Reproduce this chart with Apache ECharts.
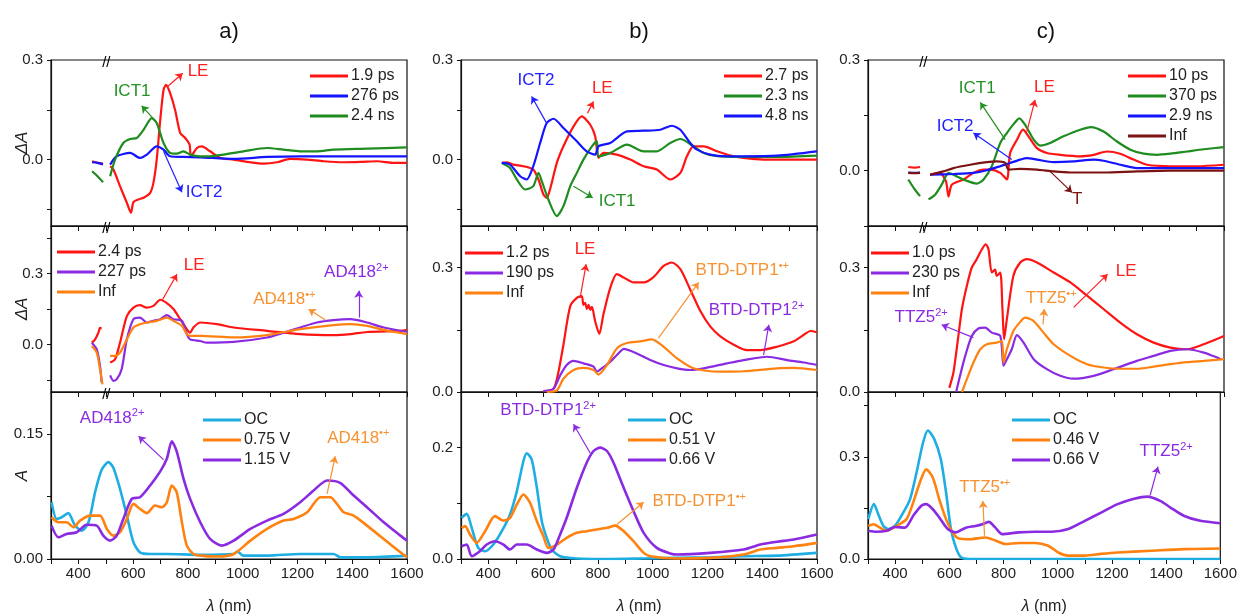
<!DOCTYPE html>
<html>
<head>
<meta charset="utf-8">
<script src="https://cdn.jsdelivr.net/npm/echarts@6/dist/echarts.min.js"></script>
<style>
  html, body { margin: 0; background: #fff; }
  #chart { width: 1240px; height: 616px; }
</style>
</head>
<body>
<div id="chart"></div>
<script>
var FONT = 'Liberation Sans, Arial, sans-serif';
var GAP = '-';

// ---- row 1 : transient spectra (decay associated) ----
var a1Red = [[450,-0.005],[470,-0.01],[490,-0.012],[500,GAP],[516,-0.02],[528,-0.03],[552,-0.08],[577,-0.13],[592,-0.16],[601,-0.128],[619,-0.12],[638,-0.115],[662,-0.1],[674,-0.07],[686,0],[699,0.12],[711,0.21],[720,0.225],[735,0.2],[753,0.15],[772,0.08],[790,0.065],[806,0.045],[811,0.01],[833,0.035],[851,0.04],[881,0.025],[918,0.005],[967,0],[1028,-0.008],[1076,-0.012],[1125,-0.008],[1174,0.002],[1235,0],[1296,-0.005],[1369,-0.008],[1430,-0.007],[1491,-0.005],[1552,-0.01],[1600,-0.01]];
var a1Blue = [[450,-0.008],[470,-0.01],[490,-0.015],[500,GAP],[516,-0.015],[540,0.01],[589,0.02],[625,0.005],[650,0.015],[686,0.04],[711,0.03],[735,0.01],[784,0.008],[845,0.007],[967,0.002],[1089,0.008],[1210,0.01],[1332,0.01],[1454,0.01],[1600,0.01]];
var a1Green = [[450,-0.035],[470,-0.05],[490,-0.068],[500,GAP],[516,-0.05],[534,0],[564,0.05],[589,0.062],[613,0.065],[638,0.09],[668,0.125],[686,0.11],[711,0.05],[735,0.02],[759,0.018],[784,0.025],[808,0.015],[845,0.01],[881,0.01],[930,0.015],[1003,0.025],[1089,0.035],[1149,0.03],[1210,0.025],[1271,0.025],[1332,0.03],[1454,0.033],[1600,0.037]];

var b1Red = [[449,-0.01],[467,-0.008],[491,-0.015],[528,-0.02],[564,-0.03],[583,-0.06],[601,-0.105],[613,-0.115],[625,-0.09],[650,-0.01],[674,0.04],[711,0.1],[741,0.13],[772,0.105],[790,0.07],[802,0.005],[820,0.02],[869,0.015],[918,0],[967,-0.02],[1015,-0.03],[1064,-0.06],[1101,-0.04],[1125,0.01],[1149,0.04],[1186,0.04],[1235,0.025],[1284,0.012],[1332,0.005],[1405,0],[1600,0]];
var b1Green = [[449,-0.01],[479,-0.025],[504,-0.06],[534,-0.09],[564,-0.08],[583,-0.04],[595,-0.065],[619,-0.12],[650,-0.17],[674,-0.14],[699,-0.08],[723,-0.04],[747,0],[778,0.04],[796,0.055],[802,0.01],[845,0.02],[906,0.045],[967,0.025],[1015,0.025],[1064,0.05],[1101,0.062],[1149,0.04],[1186,0.02],[1235,0.01],[1332,0.008],[1454,0.008],[1600,0.012]];
var b1Blue = [[449,-0.01],[479,-0.015],[516,-0.05],[540,-0.06],[564,-0.02],[589,0.05],[613,0.11],[638,0.123],[674,0.095],[723,0.055],[759,0.025],[790,0.015],[802,0.04],[845,0.05],[906,0.085],[967,0.087],[1028,0.09],[1070,0.102],[1101,0.09],[1137,0.05],[1162,0.03],[1210,0.015],[1271,0.01],[1332,0.01],[1454,0.012],[1600,0.025]];

var c1Red = [[447,0.01],[470,0.008],[490,0.01],[500,GAP],[527,-0.011],[563,-0.006],[585,-0.03],[594,-0.07],[606,-0.038],[649,-0.024],[685,-0.006],[722,0.003],[746,0.003],[783,-0.006],[807,-0.024],[819,0.048],[844,0.084],[866,0.111],[886,0.093],[917,0.061],[953,0.048],[1002,0.043],[1075,0.039],[1124,0.043],[1173,0.052],[1221,0.046],[1270,0.03],[1319,0.016],[1404,0.012],[1502,0.012],[1600,0.016]];
var c1Green = [[447,-0.024],[470,-0.05],[490,-0.069],[500,GAP],[521,-0.078],[545,-0.065],[569,-0.038],[594,-0.006],[612,-0.011],[649,-0.024],[697,-0.035],[722,-0.024],[752,0.012],[783,0.075],[807,0.102],[825,0.12],[853,0.142],[874,0.124],[905,0.084],[929,0.068],[965,0.075],[1014,0.093],[1075,0.111],[1114,0.118],[1160,0.106],[1209,0.079],[1258,0.057],[1307,0.046],[1355,0.043],[1404,0.046],[1465,0.052],[1526,0.058],[1600,0.064]];
var c1Blue = [[447,-0.005],[470,-0.006],[490,-0.005],[500,GAP],[527,-0.011],[612,-0.009],[685,-0.006],[734,0.001],[783,0.012],[819,0.021],[856,0.03],[880,0.034],[917,0.03],[978,0.023],[1051,0.025],[1124,0.03],[1160,0.027],[1221,0.016],[1282,0.007],[1404,0.007],[1600,0.007]];
var c1Brown = [[447,-0.006],[470,-0.007],[490,-0.006],[500,GAP],[527,-0.011],[575,-0.002],[612,0.007],[673,0.016],[734,0.023],[770,0.025],[801,0.021],[813,0.003],[856,0.005],[917,0.003],[978,-0.002],[1039,-0.005],[1160,-0.005],[1282,-0.002],[1404,0],[1600,0]];

// ---- row 2 : species associated spectra ----
var a2Red = [[449,0.008],[461,0.022],[473,0.05],[479,0.07],[485,0.068],[500,GAP],[516,-0.076],[534,-0.062],[552,0.008],[577,0.12],[601,0.156],[625,0.166],[650,0.156],[674,0.163],[699,0.189],[723,0.175],[747,0.15],[772,0.107],[796,0.065],[808,0.05],[820,0.072],[845,0.093],[906,0.086],[967,0.072],[1089,0.058],[1210,0.044],[1332,0.04],[1393,0.044],[1454,0.053],[1576,0.058],[1600,0.062]];
var a2Purple = [[449,0.008],[467,-0.02],[479,-0.09],[485,-0.16],[500,GAP],[516,-0.13],[528,-0.153],[540,-0.146],[558,-0.104],[577,0.022],[601,0.107],[625,0.114],[650,0.093],[674,0.1],[699,0.107],[723,0.124],[747,0.107],[778,0.1],[796,0.044],[808,0.022],[845,0.015],[869,0.008],[967,0.011],[1089,0.03],[1149,0.05],[1210,0.072],[1271,0.093],[1332,0.103],[1393,0.107],[1454,0.093],[1515,0.072],[1600,0.054]];
var a2Orange = [[449,-0.006],[467,-0.034],[479,-0.104],[488,-0.168],[500,GAP],[516,-0.048],[534,-0.048],[552,-0.034],[577,0.022],[601,0.072],[625,0.086],[650,0.093],[686,0.1],[723,0.114],[747,0.1],[778,0.079],[796,0.044],[808,0.037],[845,0.037],[967,0.03],[1089,0.04],[1210,0.065],[1332,0.082],[1393,0.086],[1454,0.079],[1515,0.062],[1600,0.044]];

var b2Red = [[601,0.002],[638,0.008],[656,0.049],[674,0.114],[699,0.207],[723,0.227],[741,0.231],[747,0.21],[753,0.215],[760,0.2],[766,0.21],[772,0.198],[778,0.205],[790,0.17],[805,0.14],[820,0.187],[845,0.251],[869,0.284],[894,0.276],[930,0.264],[967,0.264],[1003,0.277],[1040,0.304],[1070,0.312],[1101,0.296],[1137,0.247],[1174,0.195],[1210,0.158],[1247,0.134],[1296,0.114],[1344,0.101],[1393,0.101],[1454,0.109],[1515,0.122],[1552,0.138],[1576,0.147],[1600,0.144]];
var b2Purple = [[601,0.002],[638,0.008],[662,0.04],[686,0.065],[711,0.075],[747,0.069],[784,0.061],[796,0.049],[814,0.057],[845,0.073],[881,0.097],[894,0.104],[942,0.093],[991,0.077],[1040,0.065],[1089,0.057],[1137,0.053],[1186,0.057],[1271,0.069],[1332,0.077],[1418,0.085],[1491,0.077],[1552,0.071],[1600,0.065]];
var b2Orange = [[613,0],[650,0.004],[674,0.032],[711,0.053],[747,0.058],[784,0.053],[802,0.042],[833,0.065],[869,0.105],[906,0.118],[954,0.122],[997,0.127],[1040,0.109],[1089,0.081],[1149,0.057],[1210,0.05],[1271,0.049],[1332,0.05],[1454,0.057],[1515,0.058],[1600,0.053]];

var c2Red = [[597,0.01],[612,0.047],[630,0.135],[643,0.2],[661,0.256],[679,0.3],[697,0.32],[716,0.344],[730,0.356],[740,0.344],[752,0.288],[764,0.295],[770,0.28],[783,0.288],[791,0.2],[797,0.127],[807,0.175],[831,0.28],[856,0.312],[880,0.32],[917,0.312],[978,0.288],[1039,0.264],[1100,0.232],[1160,0.2],[1221,0.167],[1282,0.139],[1343,0.119],[1404,0.107],[1465,0.103],[1526,0.115],[1600,0.135]];
var c2Purple = [[622,0],[636,0.039],[655,0.087],[679,0.135],[703,0.153],[728,0.155],[752,0.143],[783,0.135],[795,0.063],[807,0.079],[825,0.103],[844,0.137],[868,0.119],[905,0.079],[953,0.055],[1002,0.039],[1051,0.032],[1124,0.039],[1197,0.055],[1282,0.075],[1343,0.087],[1404,0.099],[1465,0.103],[1526,0.095],[1575,0.083],[1587,0.079]];
var c2Orange = [[643,0],[661,0.031],[685,0.071],[710,0.103],[734,0.115],[770,0.119],[789,0.123],[795,0.071],[807,0.103],[831,0.147],[856,0.169],[874,0.179],[905,0.171],[941,0.143],[978,0.115],[1039,0.087],[1100,0.067],[1160,0.059],[1221,0.056],[1282,0.056],[1343,0.061],[1404,0.067],[1465,0.072],[1526,0.075],[1600,0.079]];

// ---- row 3 : spectroelectrochemistry ----
var a3Cyan = [[302,0.068],[321,0.048],[339,0.05],[363,0.055],[388,0.04],[412,0.034],[437,0.044],[461,0.08],[485,0.107],[510,0.116],[528,0.109],[552,0.084],[577,0.052],[601,0.02],[625,0.008],[662,0.006],[723,0.006],[845,0.005],[967,0.006],[980,0.009],[1003,0.004],[1089,0.004],[1210,0.006],[1332,0.006],[1357,0.002],[1454,0.002],[1600,0.004]];
var a3Orange = [[302,0.05],[327,0.044],[357,0.044],[382,0.038],[406,0.046],[443,0.052],[479,0.052],[504,0.036],[528,0.028],[552,0.032],[577,0.048],[601,0.066],[625,0.06],[650,0.055],[680,0.064],[705,0.062],[723,0.068],[741,0.088],[759,0.08],[778,0.044],[796,0.016],[820,0.006],[845,0.004],[906,0.003],[967,0.006],[1028,0.022],[1089,0.036],[1149,0.046],[1186,0.048],[1235,0.056],[1284,0.074],[1320,0.074],[1344,0.066],[1369,0.056],[1405,0.052],[1454,0.04],[1515,0.024],[1576,0.008],[1600,0.002]];
var a3Purple = [[302,0.04],[327,0.026],[357,0.03],[394,0.032],[430,0.041],[467,0.04],[491,0.028],[516,0.022],[540,0.028],[564,0.048],[595,0.072],[625,0.074],[662,0.088],[699,0.105],[723,0.12],[741,0.141],[759,0.129],[784,0.096],[808,0.072],[845,0.044],[881,0.024],[924,0.016],[967,0.022],[1028,0.036],[1089,0.046],[1149,0.054],[1210,0.068],[1259,0.082],[1308,0.094],[1357,0.091],[1405,0.076],[1454,0.062],[1515,0.044],[1576,0.028],[1600,0.022]];

var b3Cyan = [[302,0.074],[321,0.081],[339,0.056],[363,0.02],[388,0.014],[418,0.026],[449,0.05],[479,0.08],[504,0.122],[528,0.176],[540,0.19],[558,0.179],[577,0.128],[595,0.068],[613,0.038],[631,0.017],[662,0.005],[723,0.001],[845,0],[967,0.001],[1089,0.002],[1210,0.003],[1332,0.005],[1454,0.006],[1600,0.011]];
var b3Orange = [[302,0.056],[315,0.059],[333,0.044],[357,0.029],[388,0.05],[424,0.077],[455,0.069],[479,0.074],[504,0.098],[528,0.116],[552,0.101],[577,0.068],[601,0.041],[619,0.02],[650,0.026],[686,0.038],[723,0.047],[759,0.05],[796,0.053],[833,0.056],[863,0.06],[894,0.05],[930,0.032],[967,0.011],[991,0.005],[1089,0.001],[1210,0.002],[1332,0.008],[1393,0.017],[1454,0.02],[1515,0.023],[1600,0.029]];
var b3Purple = [[302,0.023],[321,0.026],[339,0.005],[369,0.014],[394,0.026],[424,0.032],[455,0.026],[479,0.017],[504,0.026],[540,0.026],[577,0.017],[613,0.011],[638,0.017],[662,0.044],[686,0.074],[723,0.128],[759,0.173],[784,0.194],[808,0.2],[833,0.194],[857,0.173],[894,0.128],[930,0.086],[967,0.047],[1015,0.02],[1064,0.01],[1089,0.008],[1210,0.011],[1332,0.017],[1393,0.026],[1454,0.031],[1515,0.035],[1600,0.044]];

var c3Cyan = [[301,0.117],[322,0.161],[338,0.131],[357,0.097],[375,0.088],[399,0.097],[430,0.136],[455,0.175],[479,0.253],[503,0.341],[521,0.377],[545,0.351],[569,0.292],[588,0.195],[606,0.088],[624,0.034],[643,0.005],[673,0],[856,0],[1600,0]];
var c3Orange = [[301,0.097],[320,0.102],[344,0.092],[369,0.083],[405,0.097],[442,0.117],[467,0.166],[491,0.224],[515,0.263],[539,0.239],[563,0.175],[588,0.117],[612,0.078],[636,0.06],[673,0.058],[734,0.063],[770,0.054],[807,0.044],[856,0.047],[917,0.047],[965,0.039],[1002,0.019],[1039,0.01],[1100,0.01],[1160,0.015],[1221,0.019],[1343,0.024],[1465,0.029],[1600,0.031]];
var c3Purple = [[301,0.083],[332,0.08],[369,0.083],[399,0.094],[436,0.092],[467,0.127],[497,0.156],[515,0.161],[539,0.146],[563,0.122],[594,0.088],[624,0.078],[661,0.092],[697,0.097],[722,0.102],[746,0.109],[770,0.092],[795,0.073],[856,0.078],[917,0.08],[978,0.08],[1039,0.088],[1100,0.112],[1160,0.136],[1221,0.161],[1282,0.177],[1331,0.183],[1380,0.17],[1416,0.151],[1465,0.127],[1526,0.112],[1600,0.105]];

// annotations: [wavelength, value, text, colour]
var a1Notes = [[596,0.207,'ICT1','green'],[837,0.267,'LE','red'],[859,-0.099,'ICT2','blue']];
var a2Notes = [[823,0.333,'LE','red'],[1152,0.19,'AD418{s|•+}','orange'],[1415,0.304,'AD418{s|2+}','purple']];
var a3Notes = [[523,0.169,'AD418{s|2+}','purple'],[1422,0.145,'AD418{s|•+}','orange']];
var b1Notes = [[574,0.24,'ICT2','blue'],[816,0.216,'LE','red'],[870,-0.126,'ICT1','green']];
var b2Notes = [[753,0.343,'LE','red'],[1327,0.294,'BTD-DTP1{s|•+}','orange'],[1379,0.197,'BTD-DTP1{s|2+}','purple']];
var b3Notes = [[618,0.267,'BTD-DTP1{s|2+}','purple'],[1170,0.103,'BTD-DTP1{s|•+}','orange']];
var c1Notes = [[699,0.222,'ICT1','green'],[944,0.227,'LE','red'],[618,0.119,'ICT2','blue'],[1064,-0.078,'T','brown']];
var c2Notes = [[1243,0.29,'LE','red'],[969,0.225,'TTZ5{s|•+}','orange'],[494,0.18,'TTZ5{s|2+}','purple']];
var c3Notes = [[1400,0.315,'TTZ5{s|2+}','purple'],[731,0.21,'TTZ5{s|•+}','orange']];

// arrows: [from wl, from value, to wl, to value, colour]
var a1Arrows = [[672,0.125,631,0.162,'green'],[723,0.218,781,0.26,'red'],[711,0.025,778,-0.098,'blue']];
var a2Arrows = [[707,0.189,760,0.297,'red'],[1302,0.104,1241,0.149,'orange'],[1424,0.114,1424,0.227,'purple']];
var a3Arrows = [[711,0.119,620,0.147,'purple'],[1308,0.078,1338,0.123,'orange']];
var b1Arrows = [[611,0.112,558,0.19,'blue'],[762,0.14,784,0.175,'red'],[711,-0.08,781,-0.115,'green']];
var b2Arrows = [[735,0.227,757,0.308,'red'],[1021,0.13,1168,0.264,'orange'],[1405,0.089,1424,0.162,'purple']];
var b3Arrows = [[772,0.19,711,0.242,'purple'],[869,0.062,967,0.102,'orange']];
var c1Arrows = [[801,0.084,710,0.185,'green'],[880,0.106,910,0.192,'red'],[825,0.03,685,0.102,'blue'],[965,-0.002,1045,-0.059,'brown']];
var c2Arrows = [[1051,0.204,1175,0.284,'red'],[939,0.163,944,0.2,'orange'],[685,0.131,569,0.162,'purple']];
var c3Arrows = [[1341,0.187,1370,0.271,'purple'],[730,0.068,724,0.17,'orange']];

var xLabels = [400,600,800,1000,1200,1400,1600];
var breakAt = 502;

var C = {red:'#ff1414', blue:'#1414ff', green:'#1f8c1f', purple:'#8a2be2', orange:'#ff8210', cyan:'#1eaee2', brown:'#7c1212'};
var TC = {red:'#ff2020', blue:'#2020ff', green:'#239023', purple:'#8a2be2', orange:'#f79232', brown:'#7c1212'};

var colLeft = [51, 461, 868], colWidth = 356;
var rowTop = [60, 226, 392], rowHeight = [166, 166, 168];

var panels = [
  {id:'a1', col:0, row:0, min:-0.2, max:0.3, ticks:[-0.15,0,0.15,0.3], labels:[0,0.3], dec:1, yName:'ΔA', brk:true,
   lines:[['1.9 ps','red',a1Red],['276 ps','blue',a1Blue],['2.4 ns','green',a1Green]], legend:[310,68], notes:a1Notes, arrows:a1Arrows},
  {id:'a2', col:0, row:1, min:-0.2, max:0.5, ticks:[-0.15,0,0.15,0.3,0.45], labels:[0,0.3], dec:1, yName:'ΔA', brk:true,
   lines:[['2.4 ps','red',a2Red],['227 ps','purple',a2Purple],['Inf','orange',a2Orange]], legend:[57,244], notes:a2Notes, arrows:a2Arrows},
  {id:'a3', col:0, row:2, min:0, max:0.2, ticks:[0,0.075,0.15], labels:[0,0.15], dec:2, yName:'A', brk:true,
   lines:[['OC','cyan',a3Cyan],['0.75 V','orange',a3Orange],['1.15 V','purple',a3Purple]], legend:[203,412], notes:a3Notes, arrows:a3Arrows},
  {id:'b1', col:1, row:0, min:-0.2, max:0.3, ticks:[-0.15,0,0.15,0.3], labels:[0,0.3], dec:1,
   lines:[['2.7 ps','red',b1Red],['2.3 ns','green',b1Green],['4.8 ns','blue',b1Blue]], legend:[724,68], notes:b1Notes, arrows:b1Arrows},
  {id:'b2', col:1, row:1, min:0, max:0.4, ticks:[0,0.15,0.3], labels:[0,0.3], dec:1,
   lines:[['1.2 ps','red',b2Red],['190 ps','purple',b2Purple],['Inf','orange',b2Orange]], legend:[465,245], notes:b2Notes, arrows:b2Arrows},
  {id:'b3', col:1, row:2, min:0, max:0.3, ticks:[0,0.1,0.2,0.3], labels:[0,0.2], dec:1,
   lines:[['OC','cyan',b3Cyan],['0.51 V','orange',b3Orange],['0.66 V','purple',b3Purple]], legend:[628,412], notes:b3Notes, arrows:b3Arrows},
  {id:'c1', col:2, row:0, min:-0.15, max:0.3, ticks:[-0.15,0,0.15,0.3], labels:[0,0.3], dec:1, brk:true,
   lines:[['10 ps','red',c1Red],['370 ps','green',c1Green],['2.9 ns','blue',c1Blue],['Inf','brown',c1Brown]], legend:[1128,68], notes:c1Notes, arrows:c1Arrows},
  {id:'c2', col:2, row:1, min:0, max:0.4, ticks:[0,0.15,0.3], labels:[0,0.3], dec:1, brk:true,
   lines:[['1.0 ps','red',c2Red],['230 ps','purple',c2Purple],['Inf','orange',c2Orange]], legend:[871,245], notes:c2Notes, arrows:c2Arrows},
  {id:'c3', col:2, row:2, min:0, max:0.49, ticks:[0,0.15,0.3,0.45], labels:[0,0.3], dec:1,
   lines:[['OC','cyan',c3Cyan],['0.46 V','orange',c3Orange],['0.66 V','purple',c3Purple]], legend:[1012,412], notes:c3Notes, arrows:c3Arrows}
];

var grids = [], xAxes = [], yAxes = [], legends = [], series = [];

panels.forEach(function (p, i) {
  grids.push({left: colLeft[p.col], top: rowTop[p.row], width: colWidth, height: rowHeight[p.row],
    show: true, borderColor: '#111', borderWidth: 1.2, containLabel: false});

  var bottom = p.row === 2;
  xAxes.push({
    type: 'value', gridIndex: i, min: 300, max: 1600, interval: 100,
    axisLine: {onZero: false, lineStyle: {color: '#111', width: 1.2}},
    axisTick: {length: 5, lineStyle: {color: '#111'}},
    axisLabel: {show: bottom, customValues: xLabels, fontSize: 15, color: '#222', fontFamily: FONT, margin: 7,
      formatter: function (v) { return String(v); }},
    splitLine: {show: false},
    name: bottom ? '{i|λ} (nm)' : '', nameLocation: 'middle', nameGap: 40, nameMoveOverlap: false,
    nameTextStyle: {fontSize: 16, color: '#222', fontFamily: FONT, rich: {i: {fontStyle: 'italic', fontSize: 16, fontFamily: FONT}}}
  });

  yAxes.push({
    type: 'value', gridIndex: i, min: p.min, max: p.max,
    axisLine: {lineStyle: {color: '#111', width: 1.2}},
    axisTick: {customValues: p.ticks, length: 4, lineStyle: {color: '#111'}},
    axisLabel: {customValues: p.labels, fontSize: 15, color: '#222', fontFamily: FONT, margin: 8,
      formatter: (function (d) { return function (v) { return Number(v).toFixed(d); }; })(p.dec)},
    splitLine: {show: false},
    name: p.yName || '', nameLocation: 'middle', nameGap: 20, nameRotate: 90, nameMoveOverlap: false,
    nameTextStyle: {fontSize: 17, fontStyle: 'italic', color: '#222', fontFamily: FONT}
  });

  legends.push({
    data: p.lines.map(function (l) { return p.id + '|' + l[0]; }),
    orient: 'vertical', left: p.legend[0], top: p.legend[1], padding: 0,
    icon: 'rect', itemWidth: 38, itemHeight: 3, itemGap: 4, selectedMode: false,
    formatter: function (n) { return n.split('|')[1]; },
    textStyle: {fontSize: 16, lineHeight: 16, color: '#222', fontFamily: FONT, padding: [0, 0, 0, -2]}
  });

  p.lines.forEach(function (l, k) {
    var s = {
      type: 'line', name: p.id + '|' + l[0], xAxisIndex: i, yAxisIndex: i,
      data: l[2], showSymbol: false, smooth: 0.25, connectNulls: false,
      lineStyle: {color: C[l[1]], width: bottom ? 2.6 : 2.2},
      itemStyle: {color: C[l[1]]}
    };
    if (k === 0) {
      s.markLine = {
        silent: true, symbol: ['none', 'arrow'], symbolSize: [0, 7],
        label: {show: false}, lineStyle: {width: 1.2, type: 'solid'},
        data: p.arrows.map(function (a) {
          var st = {lineStyle: {color: TC[a[4]], width: 1.2, type: 'solid'}, itemStyle: {color: TC[a[4]]}};
          return [Object.assign({coord: [a[0], a[1]], symbol: 'none'}, st),
                  Object.assign({coord: [a[2], a[3]], symbol: 'arrow', symbolSize: 7}, st)];
        })
      };
      var marks = p.notes.map(function (n) {
        return {name: n[2], coord: [n[0], n[1]], label: {color: TC[n[3]]}};
      });
      if (p.brk) {
        marks.push({name: '//', coord: [breakAt, p.max], label: {color: '#000', fontSize: 15, offset: [0, 3]}});
      }
      s.markPoint = {
        silent: true, symbol: 'circle', symbolSize: 0,
        label: {show: true, position: 'inside', fontSize: 17, lineHeight: 20, fontFamily: FONT,
          formatter: function (m) { return m.name; },
          rich: {s: {fontSize: 11, verticalAlign: 'top', lineHeight: 12, fontFamily: FONT}}},
        data: marks
      };
    }
    series.push(s);
  });
});

var titles = [['a)', 229], ['b)', 639], ['c)', 1046]];

var chart = echarts.init(document.getElementById('chart'), null, {renderer: 'canvas'});
chart.setOption({
  animation: false,
  backgroundColor: '#fff',
  grid: grids,
  xAxis: xAxes,
  yAxis: yAxes,
  legend: legends,
  series: series,
  graphic: titles.map(function (t) {
    return {type: 'text', x: t[1], y: 32, style: {text: t[0], fontSize: 22, fontFamily: FONT, fill: '#111',
      textAlign: 'center', textVerticalAlign: 'middle'}};
  })
});
</script>
</body>
</html>
